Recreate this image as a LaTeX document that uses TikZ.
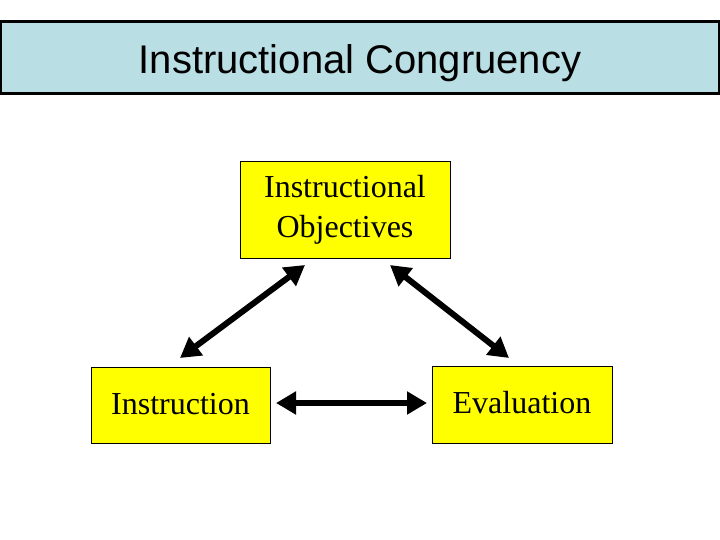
\documentclass[tikz,border=0pt]{standalone}
\usepackage{fontspec}
\setmainfont{Liberation Serif}
\newfontfamily\arialfont{Liberation Sans}
\usetikzlibrary{arrows.meta}
\definecolor{titleblue}{RGB}{185,222,228}
\definecolor{boxyellow}{RGB}{255,255,0}
\tikzset{
  ybox/.style={draw=black, line width=1pt, fill=boxyellow, inner sep=0pt, align=center,
    font=\fontsize{32}{36}\selectfont},
  dblarrow/.style={line width=6pt, {Triangle[length=20pt,width=22pt]}-{Triangle[length=20pt,width=22pt]}}
}
\begin{document}
\begin{tikzpicture}[x=1pt,y=-1pt]
\useasboundingbox (0,0) rectangle (720,540);
\node[draw=black, line width=3pt, fill=titleblue, minimum width=719pt, minimum height=72pt, inner sep=0pt,
  text depth=0pt, text height=36pt,
  font=\arialfont\fontsize{40}{44}\selectfont] (title) at (360,57.5) {\raisebox{2pt}{Instructional Congruency}};
\node[ybox, minimum width=210pt, minimum height=96pt] (obj) at (345,210) {\raisebox{3pt}{Instructional}\\[1pt]Objectives};
\node[ybox, minimum width=179pt, minimum height=76pt] (ins) at (180.5,405) {\raisebox{2pt}{Instruction}};
\node[ybox, minimum width=180pt, minimum height=77pt] (eva) at (522,404.5) {\raisebox{4pt}{Evaluation}};
\coordinate (a1) at (305,265);
\coordinate (a2) at (180,358);
\coordinate (a3) at (390,265);
\coordinate (a4) at (509,358);
\coordinate (a5) at (276,403);
\coordinate (a6) at (427,403);
\draw[dblarrow] (a1) -- (a2);
\draw[dblarrow] (a3) -- (a4);
\draw[dblarrow] (a5) -- (a6);
\end{tikzpicture}
\end{document}
